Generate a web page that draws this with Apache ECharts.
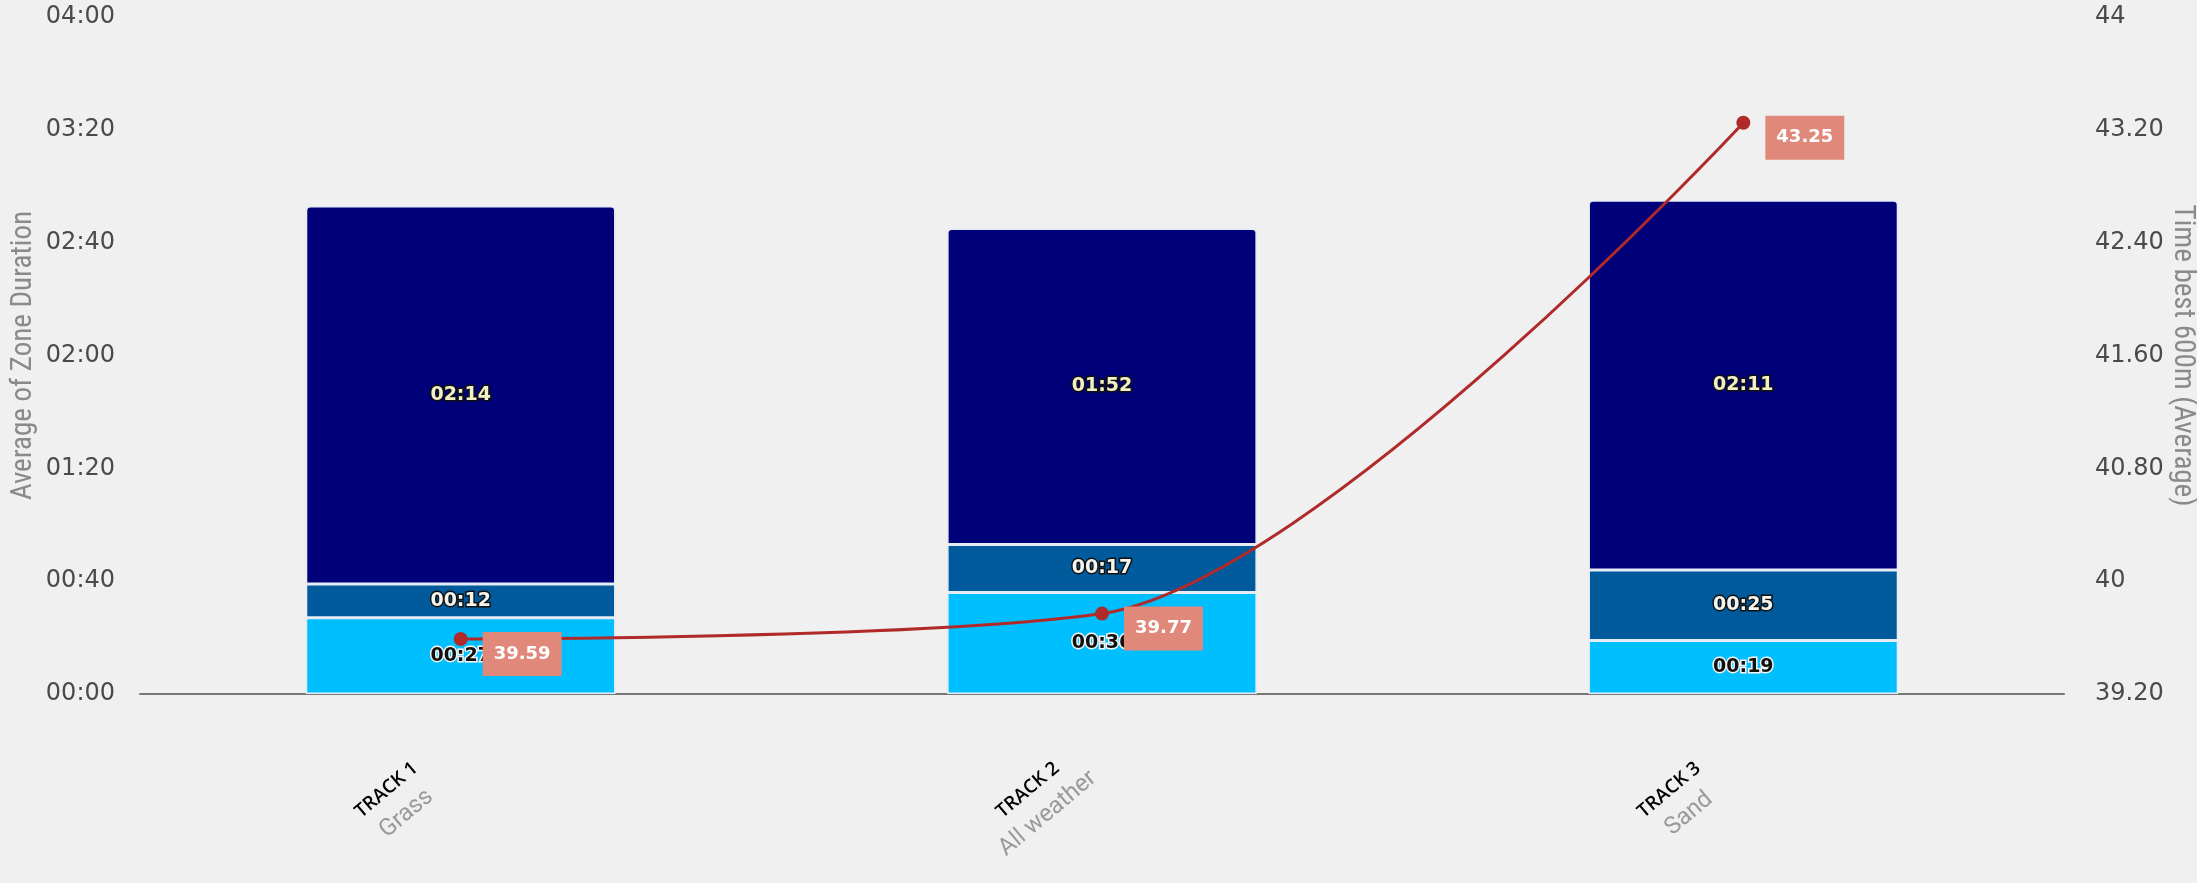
<!DOCTYPE html>
<html>
<head>
<meta charset="utf-8">
<script src="https://cdn.jsdelivr.net/npm/echarts@6/dist/echarts.min.js"></script>
<style>
  html, body { margin: 0; padding: 0; background: #f0f0f0; }
  #chart { width: 2197px; height: 883px; }
</style>
</head>
<body>
<div id="chart"></div>
<script>
const tracks = ['TRACK 1', 'TRACK 2', 'TRACK 3'];
const surfaces = ['Grass', 'All weather', 'Sand'];
const zoneLow = [27, 36, 19];      // seconds, light blue
const zoneMid = [12, 17, 25];      // seconds, mid blue
const zoneHigh = [134, 112, 131];  // seconds, navy
const best600 = [39.59, 39.77, 43.25];

function mmss(v) {
  v = Math.round(v);
  const m = Math.floor(v / 60), s = v % 60;
  return String(m).padStart(2, '0') + ':' + String(s).padStart(2, '0');
}
function rightFmt(v) {
  const r = Math.round(v * 100) / 100;
  return Number.isInteger(r) ? String(r) : r.toFixed(2);
}

const chart = echarts.init(document.getElementById('chart'), null, { renderer: 'canvas' });

const barLabel = (fill, border) => ({
  show: true,
  position: 'inside',
  formatter: p => mmss(p.value),
  fontFamily: 'DejaVu Sans',
  fontWeight: 'bold',
  fontSize: 19,
  color: fill,
  textBorderColor: border,
  textBorderWidth: 3
});

const nameFont = "'Liberation Sans Narrow', 'Roboto Condensed', sans-serif";

chart.setOption({
  backgroundColor: '#f0f0f0',
  animation: false,
  grid: { left: 140, right: 133, top: 17, bottom: 189, containLabel: false, outerBoundsMode: 'none' },
  xAxis: {
    type: 'category',
    data: tracks,
    axisLine: { show: true, lineStyle: { color: '#777', width: 2 } },
    axisTick: { show: false },
    axisLabel: {
      interval: 0,
      rotate: 40,
      align: 'center',
      verticalAlign: 'middle',
      margin: 56,
      padding: [0, 165, 0, 0],
      hideOverlap: false,
      formatter: (v, i) => '{t|' + v + '}\n{s|' + surfaces[i] + '}',
      rich: {
        t: { fontFamily: 'Open Sans', fontWeight: 600, fontSize: 19, color: '#000', lineHeight: 28, align: 'center' },
        s: { fontFamily: 'Roboto', fontSize: 24, color: '#9a9a9a', lineHeight: 34, align: 'center' }
      }
    }
  },
  yAxis: [
    {
      type: 'value',
      min: 0, max: 240, interval: 40,
      name: 'Average of Zone Duration',
      nameLocation: 'middle',
      nameRotate: 90,
      nameGap: 102,
      nameMoveOverlap: false,
      nameTextStyle: { fontFamily: nameFont, fontSize: 29, color: '#8a8a8a' },
      axisLine: { show: false },
      axisTick: { show: false },
      splitLine: { show: false },
      axisLabel: { formatter: mmss, fontFamily: 'DejaVu Sans', fontSize: 24, color: '#4a4a4a', margin: 25 }
    },
    {
      type: 'value',
      min: 39.2, max: 44, interval: 0.8,
      name: 'Time best 600m (Average)',
      nameLocation: 'middle',
      nameRotate: -90,
      nameGap: 104,
      nameMoveOverlap: false,
      nameTextStyle: { fontFamily: nameFont, fontSize: 29, color: '#8a8a8a' },
      axisLine: { show: false },
      axisTick: { show: false },
      splitLine: { show: false },
      axisLabel: { formatter: rightFmt, fontFamily: 'DejaVu Sans', fontSize: 24, color: '#4a4a4a', margin: 31 }
    }
  ],
  series: [
    {
      name: 'Zone 1', type: 'bar', stack: 'z', barWidth: '48.3%', data: zoneLow,
      itemStyle: { color: '#00bfff', borderColor: '#e6ecf5', borderWidth: 1.5 },
      label: barLabel('#111', '#f4f4f4'), z: 2
    },
    {
      name: 'Zone 2', type: 'bar', stack: 'z', data: zoneMid,
      itemStyle: { color: '#005a9c', borderColor: '#e6ecf5', borderWidth: 1.5 },
      label: barLabel('#f5f5f0', '#111'), z: 2
    },
    {
      name: 'Zone 3', type: 'bar', stack: 'z', data: zoneHigh,
      itemStyle: { color: '#000078', borderColor: '#e6ecf5', borderWidth: 1.5, borderRadius: [4, 4, 0, 0] },
      label: barLabel('#f3efc8', '#111'), z: 2
    },
    {
      name: 'Best 600m', type: 'line', yAxisIndex: 1, data: best600,
      smooth: 0.3,
      symbol: 'circle', symbolSize: 14,
      lineStyle: { color: '#b02a2a', width: 3 },
      itemStyle: { color: '#b02a2a' },
      z: 10,
      label: {
        show: true,
        position: 'right',
        distance: 15,
        offset: [0, 15],
        formatter: p => p.value.toFixed(2),
        fontFamily: 'DejaVu Sans',
        fontWeight: 'bold',
        fontSize: 18,
        color: '#fff',
        backgroundColor: '#e0887a',
        padding: [13, 11, 13, 11]
      }
    }
  ]
});
</script>
</body>
</html>
